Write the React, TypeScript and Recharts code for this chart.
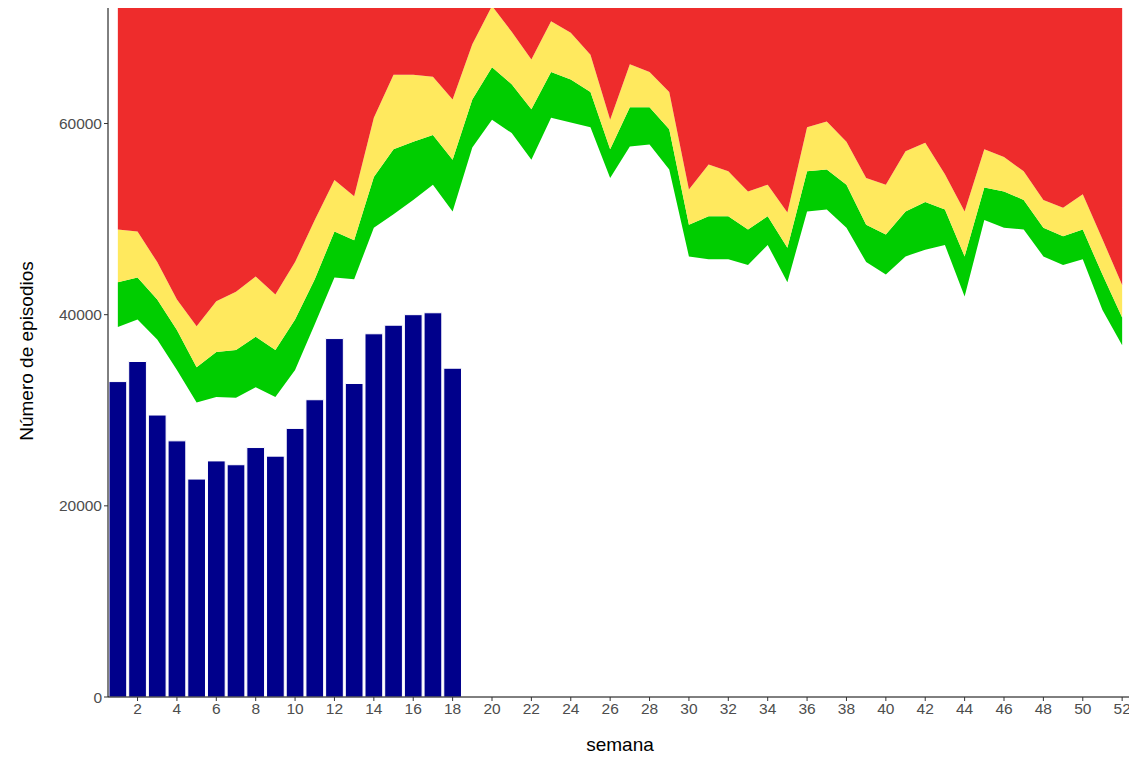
import React from "react";
import { ComposedChart, Area, Bar, XAxis, YAxis, Label } from "recharts";

const weeks = Array.from({ length: 52 }, (_, i) => i + 1);
const lowLine = [38700,39500,37400,34200,30800,31400,31300,32400,31400,34200,39000,43900,43700,49100,50500,52000,53600,50800,57500,60400,59000,56200,60600,60100,59600,54300,57600,57800,55200,46100,45800,45800,45200,47300,43400,50800,51000,49100,45500,44200,46100,46800,47300,41900,49900,49100,48900,46100,45200,45800,40500,36800];
const midLine = [43400,43900,41600,38400,34500,36100,36300,37700,36300,39500,43700,48700,47800,54400,57300,58100,58800,56200,62500,65900,64100,61500,65400,64600,63300,57300,61700,61700,59400,49400,50300,50300,48900,50300,47000,55000,55200,53600,49400,48400,50800,51800,51000,46100,53300,52900,52000,49100,48200,48900,44200,39700];
const highLine = [48900,48700,45500,41600,38800,41400,42400,44000,42100,45500,49900,54100,52400,60600,65100,65100,64900,62500,68300,72300,69600,66700,70700,69500,67200,60400,66200,65400,63300,53100,55700,55000,52900,53600,50700,59600,60200,58100,54300,53600,57100,58000,54700,50800,57300,56500,55000,52000,51200,52600,47900,43100];
const cases = [33000,35100,29500,26800,22800,24700,24300,26100,25200,28100,31100,37500,32800,38000,38900,40000,40200,34400];
const yTop = 72400;
const xTicks = Array.from({ length: 26 }, (_, i) => (i + 1) * 2);
const yTicks = [0, 20000, 40000, 60000];

const data = weeks.map((w, i) => ({
  semana: w,
  base: lowLine[i],
  green: midLine[i] - lowLine[i],
  yellow: highLine[i] - midLine[i],
  red: yTop - highLine[i],
  casos: i < cases.length ? cases[i] : null,
}));

const font = "Liberation Sans, Arial, sans-serif";
const tickStyle = { fill: "#4d4d4d", fontSize: 15.5, fontFamily: font };

export default function App() {
  return (
    <div style={{ margin: "-8px 0 0 -8px" }}>
      <ComposedChart width={1137} height={763} data={data} margin={{ top: 5, right: 5, bottom: 36, left: 0 }}>
        <XAxis dataKey="semana" type="number" domain={[0.5, 52.5]} ticks={xTicks} interval={0}
          tick={tickStyle} stroke="#000" tickLine={{ stroke: "#333" }} tickSize={4} height={30}>
          <Label value="semana" position="insideBottom" offset={-24} style={{ fill: "#000", fontSize: 19, fontFamily: font }} />
        </XAxis>
        <YAxis type="number" domain={[0, yTop]} allowDataOverflow ticks={yTicks} width={108}
          tick={tickStyle} stroke="#000" tickLine={{ stroke: "#333" }} tickSize={4}>
          <Label value="Número de episodios" angle={-90} position="insideLeft" offset={26} style={{ fill: "#000", fontSize: 19, fontFamily: font, textAnchor: "middle" }} />
        </YAxis>
        <Area type="linear" dataKey="base" stackId="a" stroke="none" fill="#ffffff" fillOpacity={1} isAnimationActive={false} />
        <Area type="linear" dataKey="green" stackId="a" stroke="none" fill="#00CD00" fillOpacity={1} isAnimationActive={false} />
        <Area type="linear" dataKey="yellow" stackId="a" stroke="none" fill="#FFE95E" fillOpacity={1} isAnimationActive={false} />
        <Area type="linear" dataKey="red" stackId="a" stroke="none" fill="#EE2C2C" fillOpacity={1} isAnimationActive={false} />
        <Bar dataKey="casos" fill="#00008B" stroke="#ffffff" strokeWidth={1} barSize={19.7} isAnimationActive={false} />
      </ComposedChart>
    </div>
  );
}
